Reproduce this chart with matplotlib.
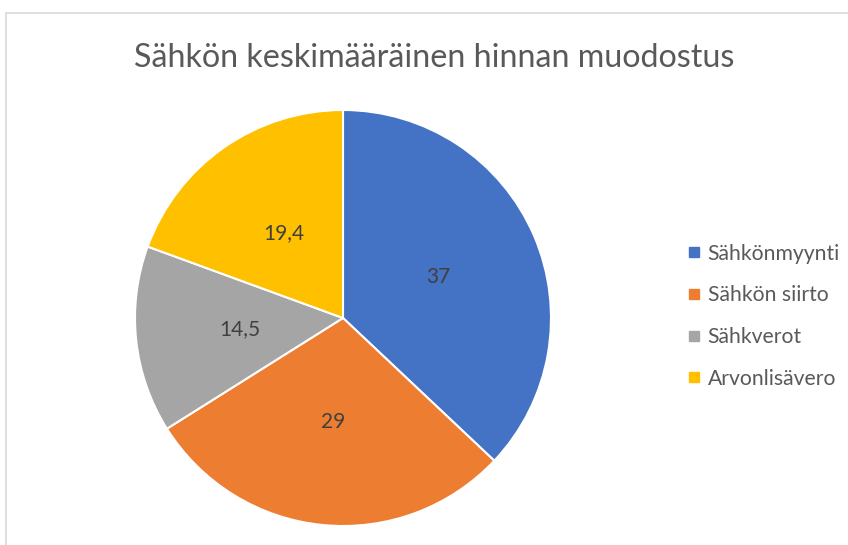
import matplotlib.pyplot as plt
from matplotlib.lines import Line2D
import numpy as np

# data
categories = ['Sähkönmyynti', 'Sähkön siirto', 'Sähkverot', 'Arvonlisävero']
values = [37, 29, 14.5, 19.4]
value_labels = ['37', '29', '14,5', '19,4']
colors = ['#4472C4', '#ED7D31', '#A5A5A5', '#FFC000']

W, H = 848, 545
plt.rcParams['font.family'] = ['Lato', 'DejaVu Sans']

fig = plt.figure(figsize=(W / 100, H / 100), dpi=100)

# pie centre (343, 318) px, radius 208 px
cx, cy, r = 343, 318, 208
ax = fig.add_axes([(cx - r) / W, (H - cy - r) / H, 2 * r / W, 2 * r / H])
wedges, _ = ax.pie(values, colors=colors, startangle=90, counterclock=False,
                   radius=1.0, wedgeprops=dict(edgecolor='white', linewidth=1.5))
ax.set_xlim(-1, 1)
ax.set_ylim(-1, 1)
ax.axis('off')

for w, lab in zip(wedges, value_labels):
    mid = np.deg2rad((w.theta1 + w.theta2) / 2)
    ax.text(0.5 * np.cos(mid), 0.5 * np.sin(mid), lab, ha='center', va='center',
            fontsize=15, color='#404040')

fig.text(434 / W, 1 - 58 / H, 'Sähkön keskimääräinen hinnan muodostus',
         ha='center', va='center', fontsize=23.2, color='#595959')

handles = [Line2D([], [], marker='s', linestyle='none', markersize=6.5,
                  markerfacecolor=c, markeredgecolor=c) for c in colors]
fig.legend(handles, categories, loc='upper left',
           bbox_to_anchor=(677 / W, 1 - 233 / H), frameon=False,
           fontsize=15.2, labelcolor='#595959', handlelength=0.6,
           handletextpad=0.35, labelspacing=1.03, borderpad=0)

# chart border (top and left edges visible)
fig.add_artist(Line2D([6 / W, 6 / W, 1], [0, 1 - 13 / H, 1 - 13 / H],
                      transform=fig.transFigure, color='#D9D9D9', linewidth=1.2))

fig.savefig('out.png', dpi=100)
